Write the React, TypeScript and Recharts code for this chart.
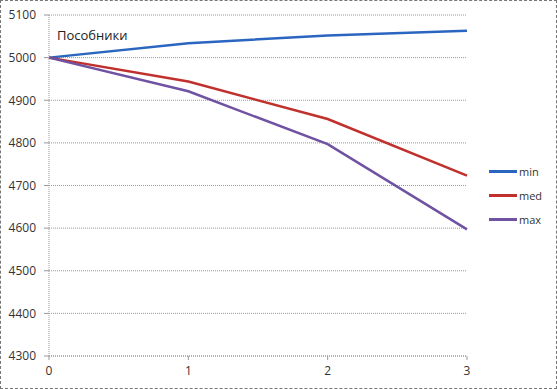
import React from "react";
import { LineChart, Line, XAxis, YAxis, CartesianGrid } from "recharts";

const categories = [0, 1, 2, 3];
const minValues = [5000, 5034, 5052, 5063];
const medValues = [5000, 4944, 4856, 4723];
const maxValues = [5000, 4921, 4797, 4597];
const yTicks = [4300, 4400, 4500, 4600, 4700, 4800, 4900, 5000, 5100];
const seriesNames = ["min", "med", "max"];
const seriesColors = ["#2a66c0", "#c0302c", "#7052a2"];

const data = categories.map((c, i) => ({
  x: c,
  min: minValues[i],
  med: medValues[i],
  max: maxValues[i],
}));

const FONT = "'Open Sans', 'Liberation Sans', sans-serif";

export default function App() {
  return (
    <div
      style={{
        position: "absolute",
        left: 0,
        top: 0,
        width: 557,
        height: 389,
        boxSizing: "border-box",
        border: "1px dashed #777",
        background: "#fff",
      }}
    >
      <div style={{ position: "absolute", left: -1, top: -1 }}>
        <LineChart
          width={557}
          height={389}
          data={data}
          margin={{ top: 15, right: 90, bottom: 0, left: 0 }}
        >
          <CartesianGrid
            horizontal={true}
            vertical={false}
            stroke="#999"
            strokeDasharray="1 1"
          />
          <XAxis
            dataKey="x"
            type="number"
            domain={[0, 3]}
            ticks={categories}
            height={33}
            tickSize={4}
            tickMargin={6}
            axisLine={{ stroke: "#999", strokeDasharray: "1 1" }}
            tickLine={{ stroke: "#999" }}
            tick={{ fill: "#333", fontSize: 12, fontFamily: FONT }}
          />
          <YAxis
            domain={[4300, 5100]}
            ticks={yTicks}
            width={49}
            tickSize={5}
            tickMargin={8}
            axisLine={{ stroke: "#999", strokeDasharray: "1 1" }}
            tickLine={{ stroke: "#999" }}
            tick={{ fill: "#333", fontSize: 12, fontFamily: FONT }}
          />
          {seriesNames.map((n, i) => (
            <Line
              key={n}
              dataKey={n}
              stroke={seriesColors[i]}
              strokeWidth={2.5}
              dot={false}
              isAnimationActive={false}
            />
          ))}
        </LineChart>
      </div>
      <div
        style={{
          position: "absolute",
          left: 488,
          top: 158,
          fontFamily: FONT,
          fontSize: 11,
          color: "#333",
        }}
      >
        {seriesNames.map((n, i) => (
          <div key={n} style={{ display: "flex", alignItems: "center", height: 24 }}>
            <div style={{ width: 28, height: 3, background: seriesColors[i], marginRight: 2 }} />
            <span>{n}</span>
          </div>
        ))}
      </div>
      <div
        style={{
          position: "absolute",
          left: 56,
          top: 25,
          fontFamily: FONT,
          fontSize: 13,
          color: "#222",
        }}
      >
        Пособники
      </div>
    </div>
  );
}
